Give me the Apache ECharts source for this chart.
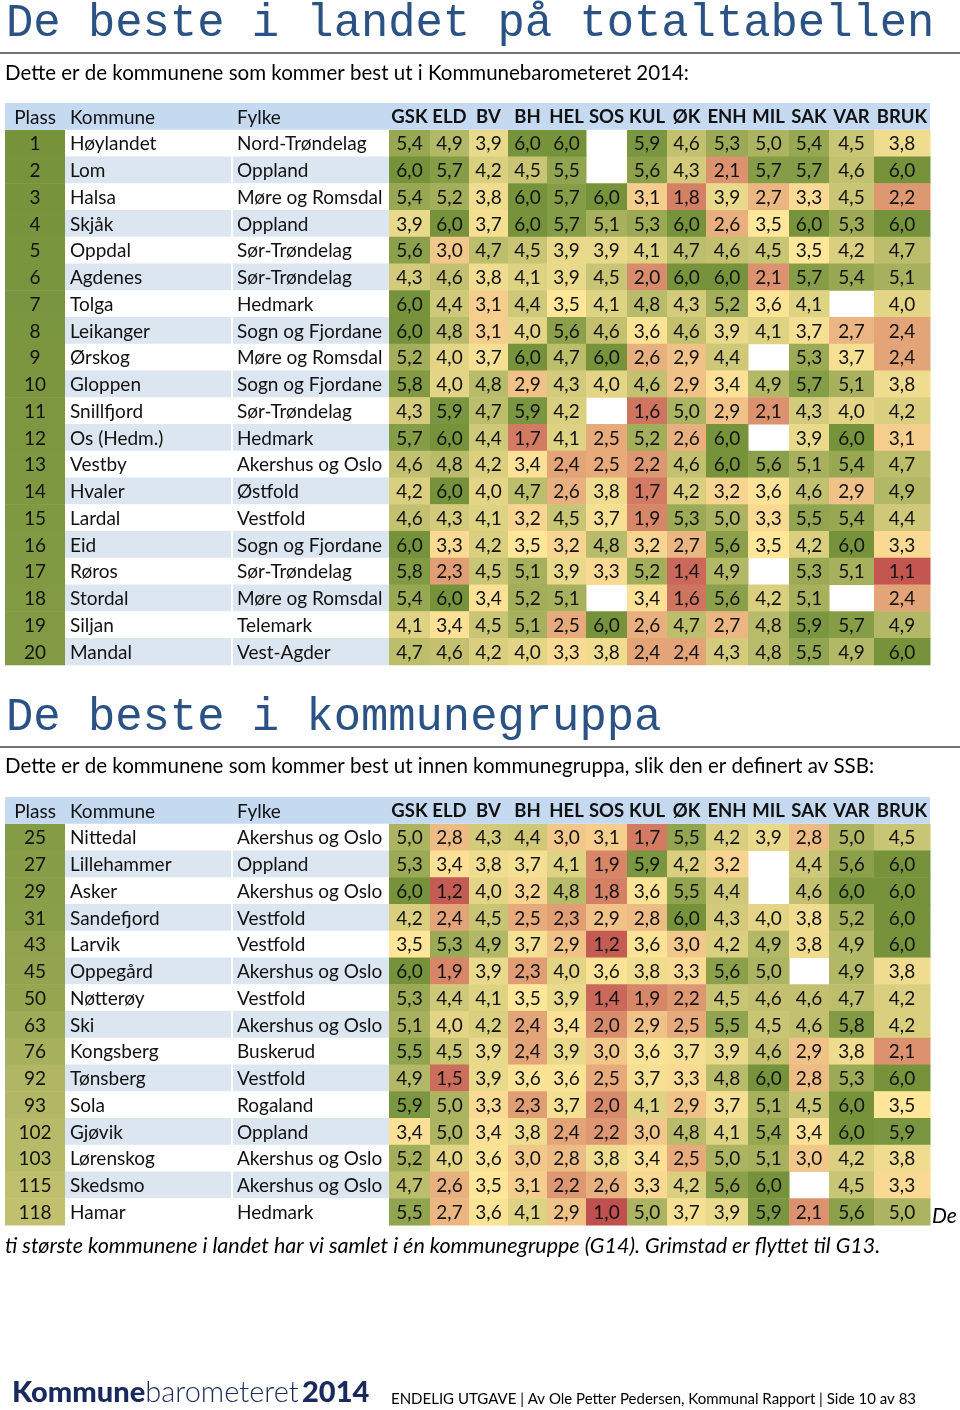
<!DOCTYPE html>
<html><head><meta charset="utf-8">
<script src="https://cdn.jsdelivr.net/npm/echarts@6/dist/echarts.min.js"></script>
<style>html,body{margin:0;padding:0;background:#fff}#c{width:960px;height:1410px}</style>
</head><body><div id="c"></div>
<script>
// ---------- DATA ----------
const columns = ['GSK','ELD','BV','BH','HEL','SOS','KUL','ØK','ENH','MIL','SAK','VAR','BRUK'];
const headerLabels = ['Plass','Kommune','Fylke'];

const places1 = [1,2,3,4,5,6,7,8,9,10,11,12,13,14,15,16,17,18,19,20];
const kommune1 = ['Høylandet','Lom','Halsa','Skjåk','Oppdal','Agdenes','Tolga','Leikanger','Ørskog','Gloppen','Snillfjord','Os (Hedm.)','Vestby','Hvaler','Lardal','Eid','Røros','Stordal','Siljan','Mandal'];
const fylke1 = ['Nord-Trøndelag','Oppland','Møre og Romsdal','Oppland','Sør-Trøndelag','Sør-Trøndelag','Hedmark','Sogn og Fjordane','Møre og Romsdal','Sogn og Fjordane','Sør-Trøndelag','Hedmark','Akershus og Oslo','Østfold','Vestfold','Sogn og Fjordane','Sør-Trøndelag','Møre og Romsdal','Telemark','Vest-Agder'];
const values1 = [
  [5.4,4.9,3.9,6.0,6.0,null,5.9,4.6,5.3,5.0,5.4,4.5,3.8],
  [6.0,5.7,4.2,4.5,5.5,null,5.6,4.3,2.1,5.7,5.7,4.6,6.0],
  [5.4,5.2,3.8,6.0,5.7,6.0,3.1,1.8,3.9,2.7,3.3,4.5,2.2],
  [3.9,6.0,3.7,6.0,5.7,5.1,5.3,6.0,2.6,3.5,6.0,5.3,6.0],
  [5.6,3.0,4.7,4.5,3.9,3.9,4.1,4.7,4.6,4.5,3.5,4.2,4.7],
  [4.3,4.6,3.8,4.1,3.9,4.5,2.0,6.0,6.0,2.1,5.7,5.4,5.1],
  [6.0,4.4,3.1,4.4,3.5,4.1,4.8,4.3,5.2,3.6,4.1,null,4.0],
  [6.0,4.8,3.1,4.0,5.6,4.6,3.6,4.6,3.9,4.1,3.7,2.7,2.4],
  [5.2,4.0,3.7,6.0,4.7,6.0,2.6,2.9,4.4,null,5.3,3.7,2.4],
  [5.8,4.0,4.8,2.9,4.3,4.0,4.6,2.9,3.4,4.9,5.7,5.1,3.8],
  [4.3,5.9,4.7,5.9,4.2,null,1.6,5.0,2.9,2.1,4.3,4.0,4.2],
  [5.7,6.0,4.4,1.7,4.1,2.5,5.2,2.6,6.0,null,3.9,6.0,3.1],
  [4.6,4.8,4.2,3.4,2.4,2.5,2.2,4.6,6.0,5.6,5.1,5.4,4.7],
  [4.2,6.0,4.0,4.7,2.6,3.8,1.7,4.2,3.2,3.6,4.6,2.9,4.9],
  [4.6,4.3,4.1,3.2,4.5,3.7,1.9,5.3,5.0,3.3,5.5,5.4,4.4],
  [6.0,3.3,4.2,3.5,3.2,4.8,3.2,2.7,5.6,3.5,4.2,6.0,3.3],
  [5.8,2.3,4.5,5.1,3.9,3.3,5.2,1.4,4.9,null,5.3,5.1,1.1],
  [5.4,6.0,3.4,5.2,5.1,null,3.4,1.6,5.6,4.2,5.1,null,2.4],
  [4.1,3.4,4.5,5.1,2.5,6.0,2.6,4.7,2.7,4.8,5.9,5.7,4.9],
  [4.7,4.6,4.2,4.0,3.3,3.8,2.4,2.4,4.3,4.8,5.5,4.9,6.0]
];

const places2 = [25,27,29,31,43,45,50,63,76,92,93,102,103,115,118];
const kommune2 = ['Nittedal','Lillehammer','Asker','Sandefjord','Larvik','Oppegård','Nøtterøy','Ski','Kongsberg','Tønsberg','Sola','Gjøvik','Lørenskog','Skedsmo','Hamar'];
const fylke2 = ['Akershus og Oslo','Oppland','Akershus og Oslo','Vestfold','Vestfold','Akershus og Oslo','Vestfold','Akershus og Oslo','Buskerud','Vestfold','Rogaland','Oppland','Akershus og Oslo','Akershus og Oslo','Hedmark'];
const values2 = [
  [5.0,2.8,4.3,4.4,3.0,3.1,1.7,5.5,4.2,3.9,2.8,5.0,4.5],
  [5.3,3.4,3.8,3.7,4.1,1.9,5.9,4.2,3.2,null,4.4,5.6,6.0],
  [6.0,1.2,4.0,3.2,4.8,1.8,3.6,5.5,4.4,null,4.6,6.0,6.0],
  [4.2,2.4,4.5,2.5,2.3,2.9,2.8,6.0,4.3,4.0,3.8,5.2,6.0],
  [3.5,5.3,4.9,3.7,2.9,1.2,3.6,3.0,4.2,4.9,3.8,4.9,6.0],
  [6.0,1.9,3.9,2.3,4.0,3.6,3.8,3.3,5.6,5.0,null,4.9,3.8],
  [5.3,4.4,4.1,3.5,3.9,1.4,1.9,2.2,4.5,4.6,4.6,4.7,4.2],
  [5.1,4.0,4.2,2.4,3.4,2.0,2.9,2.5,5.5,4.5,4.6,5.8,4.2],
  [5.5,4.5,3.9,2.4,3.9,3.0,3.6,3.7,3.9,4.6,2.9,3.8,2.1],
  [4.9,1.5,3.9,3.6,3.6,2.5,3.7,3.3,4.8,6.0,2.8,5.3,6.0],
  [5.9,5.0,3.3,2.3,3.7,2.0,4.1,2.9,3.7,5.1,4.5,6.0,3.5],
  [3.4,5.0,3.4,3.8,2.4,2.2,3.0,4.8,4.1,5.4,3.4,6.0,5.9],
  [5.2,4.0,3.6,3.0,2.8,3.8,3.4,2.5,5.0,5.1,3.0,4.2,3.8],
  [4.7,2.6,3.5,3.1,2.2,2.6,3.3,4.2,5.6,6.0,null,4.5,3.3],
  [5.5,2.7,3.6,4.1,2.9,1.0,5.0,3.7,3.9,5.9,2.1,5.6,5.0]
];

// ---------- LAYOUT / STYLE ----------
const FONT = 'Lato, "Noto Sans", sans-serif';
const CELL_FONT = '19px ' + FONT;
const HEAD_FONT = 'bold 18.5px ' + FONT;
const DATA_EDGES = [389,430,469,508,547,586,627,667,706,748,789,829,874,930];
const PLASS_X = [5,65], KOMMUNE_X = [65,231], FYLKE_X = [233,389];
const TABLE_RIGHT = 930;
const ROW_H = 26.75;
const HEAD_BG = '#C5D9F1', BAND_BG = '#DCE6F1';

function rowsSeriesData(places){ return places.map((p,i)=>[0, i+1, p]); }
function cellsSeriesData(vals){
  const out=[];
  vals.forEach((row,r)=>row.forEach((v,c)=>{ if(v!==null) out.push([c, r+1, v]); }));
  return out;
}
function headerData(){ const n = headerLabels.length + columns.length; const a=[]; for(let i=0;i<n;i++) a.push([i,0,0]); return a; }

function px(api, x, r){ return api.coord([x, r]); }

function makeRowsRender(kommune, fylke){
  return function(params, api){
    const r = api.value(1), place = api.value(2);
    const yc = px(api, 0, r)[1];
    const h = api.size([0,1])[1];
    const y0 = yc - h/2;
    const band = (r % 2 === 0) ? BAND_BG : '#ffffff';
    const x = v => px(api, v, r)[0];
    return {type:'group', children:[
      {type:'rect', shape:{x:x(KOMMUNE_X[0]), y:y0, width:x(KOMMUNE_X[1])-x(KOMMUNE_X[0]), height:h+0.5}, style:{fill:band}},
      {type:'rect', shape:{x:x(FYLKE_X[0]), y:y0, width:x(FYLKE_X[1])-x(FYLKE_X[0]), height:h+0.5}, style:{fill:band}},
      {type:'rect', shape:{x:x(PLASS_X[0]), y:y0, width:x(PLASS_X[1])-x(PLASS_X[0]), height:h+0.5}, style:{fill:api.visual('color')}},
      {type:'text', style:{text:String(place), x:(x(PLASS_X[0])+x(PLASS_X[1]))/2, y:yc+1, align:'center', verticalAlign:'middle', font:CELL_FONT, fill:'#111'}},
      {type:'text', style:{text:kommune[r-1], x:x(KOMMUNE_X[0])+5, y:yc+1, align:'left', verticalAlign:'middle', font:CELL_FONT, fill:'#111'}},
      {type:'text', style:{text:fylke[r-1], x:x(FYLKE_X[0])+4, y:yc+1, align:'left', verticalAlign:'middle', font:CELL_FONT, fill:'#111'}}
    ]};
  };
}

function cellsRender(params, api){
  const c = api.value(0), r = api.value(1), v = api.value(2);
  const x0 = px(api, DATA_EDGES[c], r)[0], x1 = px(api, DATA_EDGES[c+1], r)[0];
  const yc = px(api, 0, r)[1];
  const h = api.size([0,1])[1];
  return {type:'group', children:[
    {type:'rect', shape:{x:x0, y:yc-h/2, width:x1-x0+0.5, height:h+0.5}, style:{fill:api.visual('color')}},
    {type:'text', style:{text:v.toFixed(1).replace('.', ','), x:(x0+x1)/2, y:yc+1, align:'center', verticalAlign:'middle', font:CELL_FONT, fill:'#111'}}
  ]};
}

function headerRender(params, api){
  const i = api.value(0);
  const yc = px(api, 0, 0)[1];
  const h = api.size([0,1])[1];
  const x = v => px(api, v, 0)[0];
  const children = [];
  if(i === 0){
    children.push({type:'rect', shape:{x:x(PLASS_X[0]), y:yc-h/2, width:x(TABLE_RIGHT)-x(PLASS_X[0]), height:h}, style:{fill:HEAD_BG}});
    children.push({type:'text', style:{text:headerLabels[0], x:(x(PLASS_X[0])+x(PLASS_X[1]))/2, y:yc+1, align:'center', verticalAlign:'middle', font:CELL_FONT, fill:'#111'}});
  } else if(i === 1){
    children.push({type:'text', style:{text:headerLabels[1], x:x(KOMMUNE_X[0])+5, y:yc+1, align:'left', verticalAlign:'middle', font:CELL_FONT, fill:'#111'}});
  } else if(i === 2){
    children.push({type:'text', style:{text:headerLabels[2], x:x(FYLKE_X[0])+4, y:yc+1, align:'left', verticalAlign:'middle', font:CELL_FONT, fill:'#111'}});
  } else {
    const c = i - 3;
    children.push({type:'text', style:{text:columns[c], x:(x(DATA_EDGES[c])+x(DATA_EDGES[c+1]))/2, y:yc+1, align:'center', verticalAlign:'middle', font:HEAD_FONT, fill:'#111'}});
  }
  return {type:'group', children};
}

function cats(n){ const a=[]; for(let i=0;i<=n;i++) a.push(String(i)); return a; }

const chart = echarts.init(document.getElementById('c'), null, {renderer:'canvas'});
const option = {
  animation:false,
  backgroundColor:'#ffffff',
  grid:[
    {left:0, right:0, top:103, height:ROW_H*(places1.length+1)},
    {left:0, right:0, top:797, height:ROW_H*(places2.length+1)}
  ],
  xAxis:[
    {type:'value', gridIndex:0, min:0, max:960, show:false},
    {type:'value', gridIndex:1, min:0, max:960, show:false}
  ],
  yAxis:[
    {type:'category', gridIndex:0, data:cats(places1.length), inverse:true, show:false},
    {type:'category', gridIndex:1, data:cats(places2.length), inverse:true, show:false}
  ],
  visualMap:[
    {type:'continuous', show:false, seriesIndex:[1,4], dimension:2, min:1, max:6, inRange:{color:['#C0504D','#FFE699','#76933C']}},
    {type:'continuous', show:false, seriesIndex:[0,3], dimension:2, min:1, max:428, inRange:{color:['#76933C','#FFE699','#C0504D']}}
  ],
  series:[
    {type:'custom', name:'rader1', xAxisIndex:0, yAxisIndex:0, data:rowsSeriesData(places1), renderItem:makeRowsRender(kommune1, fylke1), silent:true},
    {type:'custom', name:'celler1', xAxisIndex:0, yAxisIndex:0, data:cellsSeriesData(values1), renderItem:cellsRender, silent:true},
    {type:'custom', name:'hode1', xAxisIndex:0, yAxisIndex:0, data:headerData(), renderItem:headerRender, silent:true},
    {type:'custom', name:'rader2', xAxisIndex:1, yAxisIndex:1, data:rowsSeriesData(places2), renderItem:makeRowsRender(kommune2, fylke2), silent:true},
    {type:'custom', name:'celler2', xAxisIndex:1, yAxisIndex:1, data:cellsSeriesData(values2), renderItem:cellsRender, silent:true},
    {type:'custom', name:'hode2', xAxisIndex:1, yAxisIndex:1, data:headerData(), renderItem:headerRender, silent:true}
  ],
  graphic:[
    {type:'text', left:6, top:1, style:{text:'De beste i landet på totaltabellen', font:'45.5px "Liberation Mono", monospace', fill:'#2A5285'}},
    {type:'line', shape:{x1:0, y1:53, x2:960, y2:53}, style:{stroke:'#444', lineWidth:1.5}},
    {type:'text', left:5, top:63, style:{text:'Dette er de kommunene som kommer best ut i Kommunebarometeret 2014:', font:'20.5px ' + FONT, fill:'#000'}},
    {type:'text', left:6, top:695, style:{text:'De beste i kommunegruppa', font:'45.5px "Liberation Mono", monospace', fill:'#2A5285'}},
    {type:'line', shape:{x1:0, y1:747, x2:960, y2:747}, style:{stroke:'#444', lineWidth:1.5}},
    {type:'text', left:5, top:756, style:{text:'Dette er de kommunene som kommer best ut innen kommunegruppa, slik den er definert av SSB:', font:'20.5px ' + FONT, fill:'#000'}},
    {type:'text', left:932, top:1206, style:{text:'De', font:'italic 21px ' + FONT, fill:'#000'}},
    {type:'text', left:5, top:1235, style:{text:'ti største kommunene i landet har vi samlet i én kommunegruppe (G14). Grimstad er flyttet til G13.', font:'italic 21.5px ' + FONT, fill:'#000'}},
    {type:'text', left:12, top:1378, style:{text:'{a|Kommune}{b|barometeret} {a|2014}', rich:{a:{font:'900 29px ' + FONT, fill:'#1B2A5C'}, b:{font:'300 29px ' + FONT, fill:'#1B2A5C'}}}},
    {type:'text', left:391, top:1392, style:{text:'ENDELIG UTGAVE | Av Ole Petter Pedersen, Kommunal Rapport | Side 10 av 83', font:'15px ' + FONT, fill:'#000'}}
  ]
};
chart.setOption(option);
</script>
</body></html>
